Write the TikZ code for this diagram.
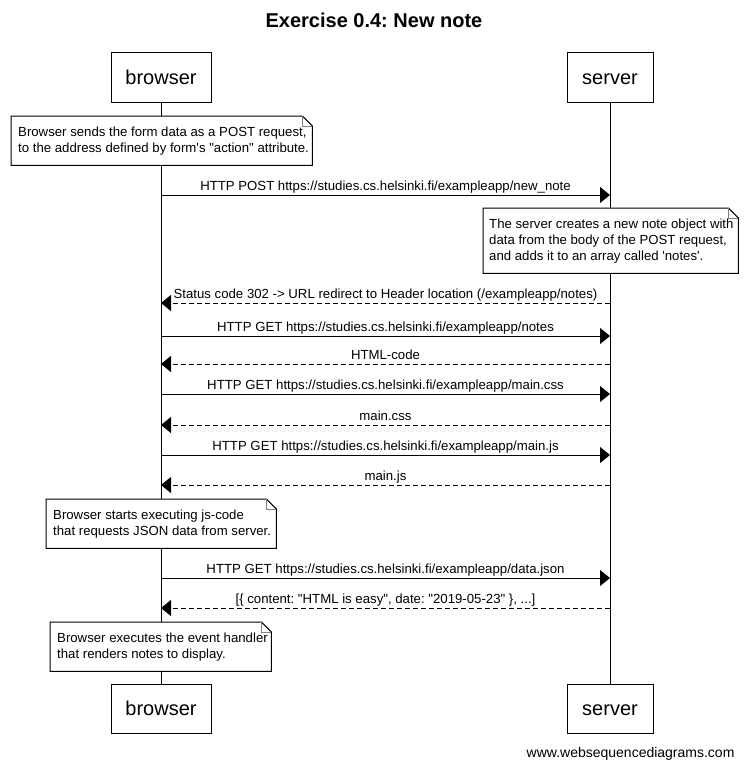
\documentclass[tikz,border=0pt]{standalone}
\usepackage{fontspec}
\setmainfont{Liberation Sans}[Ligatures=TeXOff]
\usetikzlibrary{arrows.meta}
\frenchspacing

% Folded-corner outline drawn over a note node
\newcommand{\dogear}[1]{%
  \draw[noteline] (#1.south west) -- (#1.north west) -- ([xshift=-10pt]#1.north east)
    -- ([yshift=-10pt]#1.north east) -- (#1.south east) -- cycle;
  \draw[notefold] ([xshift=-10pt]#1.north east) -- ([xshift=-10pt,yshift=-10pt]#1.north east)
    -- ([yshift=-10pt]#1.north east);
}

\begin{document}
\begin{tikzpicture}[x=1pt,y=-1pt,
  every node/.style={font=\fontsize{13.2}{16}\selectfont},
  actor/.style={draw, line width=1pt, fill=white, minimum height=49pt, inner sep=0pt,
    text height=14.5pt, text depth=0pt, font=\fontsize{20}{24}\selectfont},
  lifeline/.style={line width=1pt},
  notebox/.style={fill=white, inner sep=0pt, anchor=north west},
  noteline/.style={line width=1pt},
  notefold/.style={line width=0.8pt, gray},
  notetext/.style={anchor=west, align=left, inner sep=0pt},
  msg/.style={line width=1pt, -{Triangle[length=10pt,width=16pt]}},
  reply/.style={msg, dash pattern=on 5pt off 3pt},
  lbl/.style={midway, anchor=base, yshift=5pt, inner sep=0pt}
]
\useasboundingbox[fill=white] (0,0) rectangle (747,768);

% title
\node[font=\bfseries\fontsize{20}{24}\selectfont, anchor=base] (title) at (374,28) {Exercise 0.4: New note};

% participants
\node[actor, minimum width=100pt] (btop) at (161,77.5) {browser};
\node[actor, minimum width=86pt] (stop) at (610,77.5) {server};
\node[actor, minimum width=100pt] (bbot) at (161,708.5) {browser};
\node[actor, minimum width=86pt] (sbot) at (610,708.5) {server};

% lifelines
\draw[lifeline] (btop) -- (bbot);
\draw[lifeline] (stop) -- (sbot);

% notes
\node[notebox, minimum width=301pt, minimum height=49pt] (n1) at (11,116) {};
\dogear{n1}
\node[notetext] (n1t) at ([xshift=7pt]n1.west) {Browser sends the form data as a POST request,\\to the address defined by form's "action" attribute.};

\node[notebox, minimum width=255pt, minimum height=65pt] (n2) at (483,208) {};
\dogear{n2}
\node[notetext] (n2t) at ([xshift=6pt]n2.west) {The server creates a new note object with\\data from the body of the POST request,\\and adds it to an array called 'notes'.};

\node[notebox, minimum width=230pt, minimum height=49pt] (n3) at (46,499) {};
\dogear{n3}
\node[notetext] (n3t) at ([xshift=7pt]n3.west) {Browser starts executing js-code\\that requests JSON data from server.};

\node[notebox, minimum width=221pt, minimum height=49pt] (n4) at (50,622) {};
\dogear{n4}
\node[notetext] (n4t) at ([xshift=7pt]n4.west) {Browser executes the event handler\\that renders notes to display.};

% message end points on the lifelines
\foreach \k/\y in {1/195,2/303,3/336,4/364,5/394,6/425,7/455,8/485,9/578,10/608}{
  \coordinate (b\k) at (161,\y);
  \coordinate (s\k) at (610,\y);
}

% messages
\draw[msg] (b1) -- node[lbl] {HTTP POST https://studies.cs.helsinki.fi/exampleapp/new\_note} (s1);
\draw[reply] (s2) -- node[lbl] {Status code 302 -> URL redirect to Header location (/exampleapp/notes)} (b2);
\draw[msg] (b3) -- node[lbl] {HTTP GET https://studies.cs.helsinki.fi/exampleapp/notes} (s3);
\draw[reply] (s4) -- node[lbl] {HTML-code} (b4);
\draw[msg] (b5) -- node[lbl] {HTTP GET https://studies.cs.helsinki.fi/exampleapp/main.css} (s5);
\draw[reply] (s6) -- node[lbl] {main.css} (b6);
\draw[msg] (b7) -- node[lbl] {HTTP GET https://studies.cs.helsinki.fi/exampleapp/main.js} (s7);
\draw[reply] (s8) -- node[lbl] {main.js} (b8);
\draw[msg] (b9) -- node[lbl] {HTTP GET https://studies.cs.helsinki.fi/exampleapp/data.json} (s9);
\draw[reply] (s10) -- node[lbl] {[\{ content: "HTML is easy", date: "2019-05-23" \}, ...]} (b10);

% credit line
\node[font=\fontsize{14}{16}\selectfont, anchor=base east] (credit) at (738,757) {www.websequencediagrams.com};
\end{tikzpicture}
\end{document}
